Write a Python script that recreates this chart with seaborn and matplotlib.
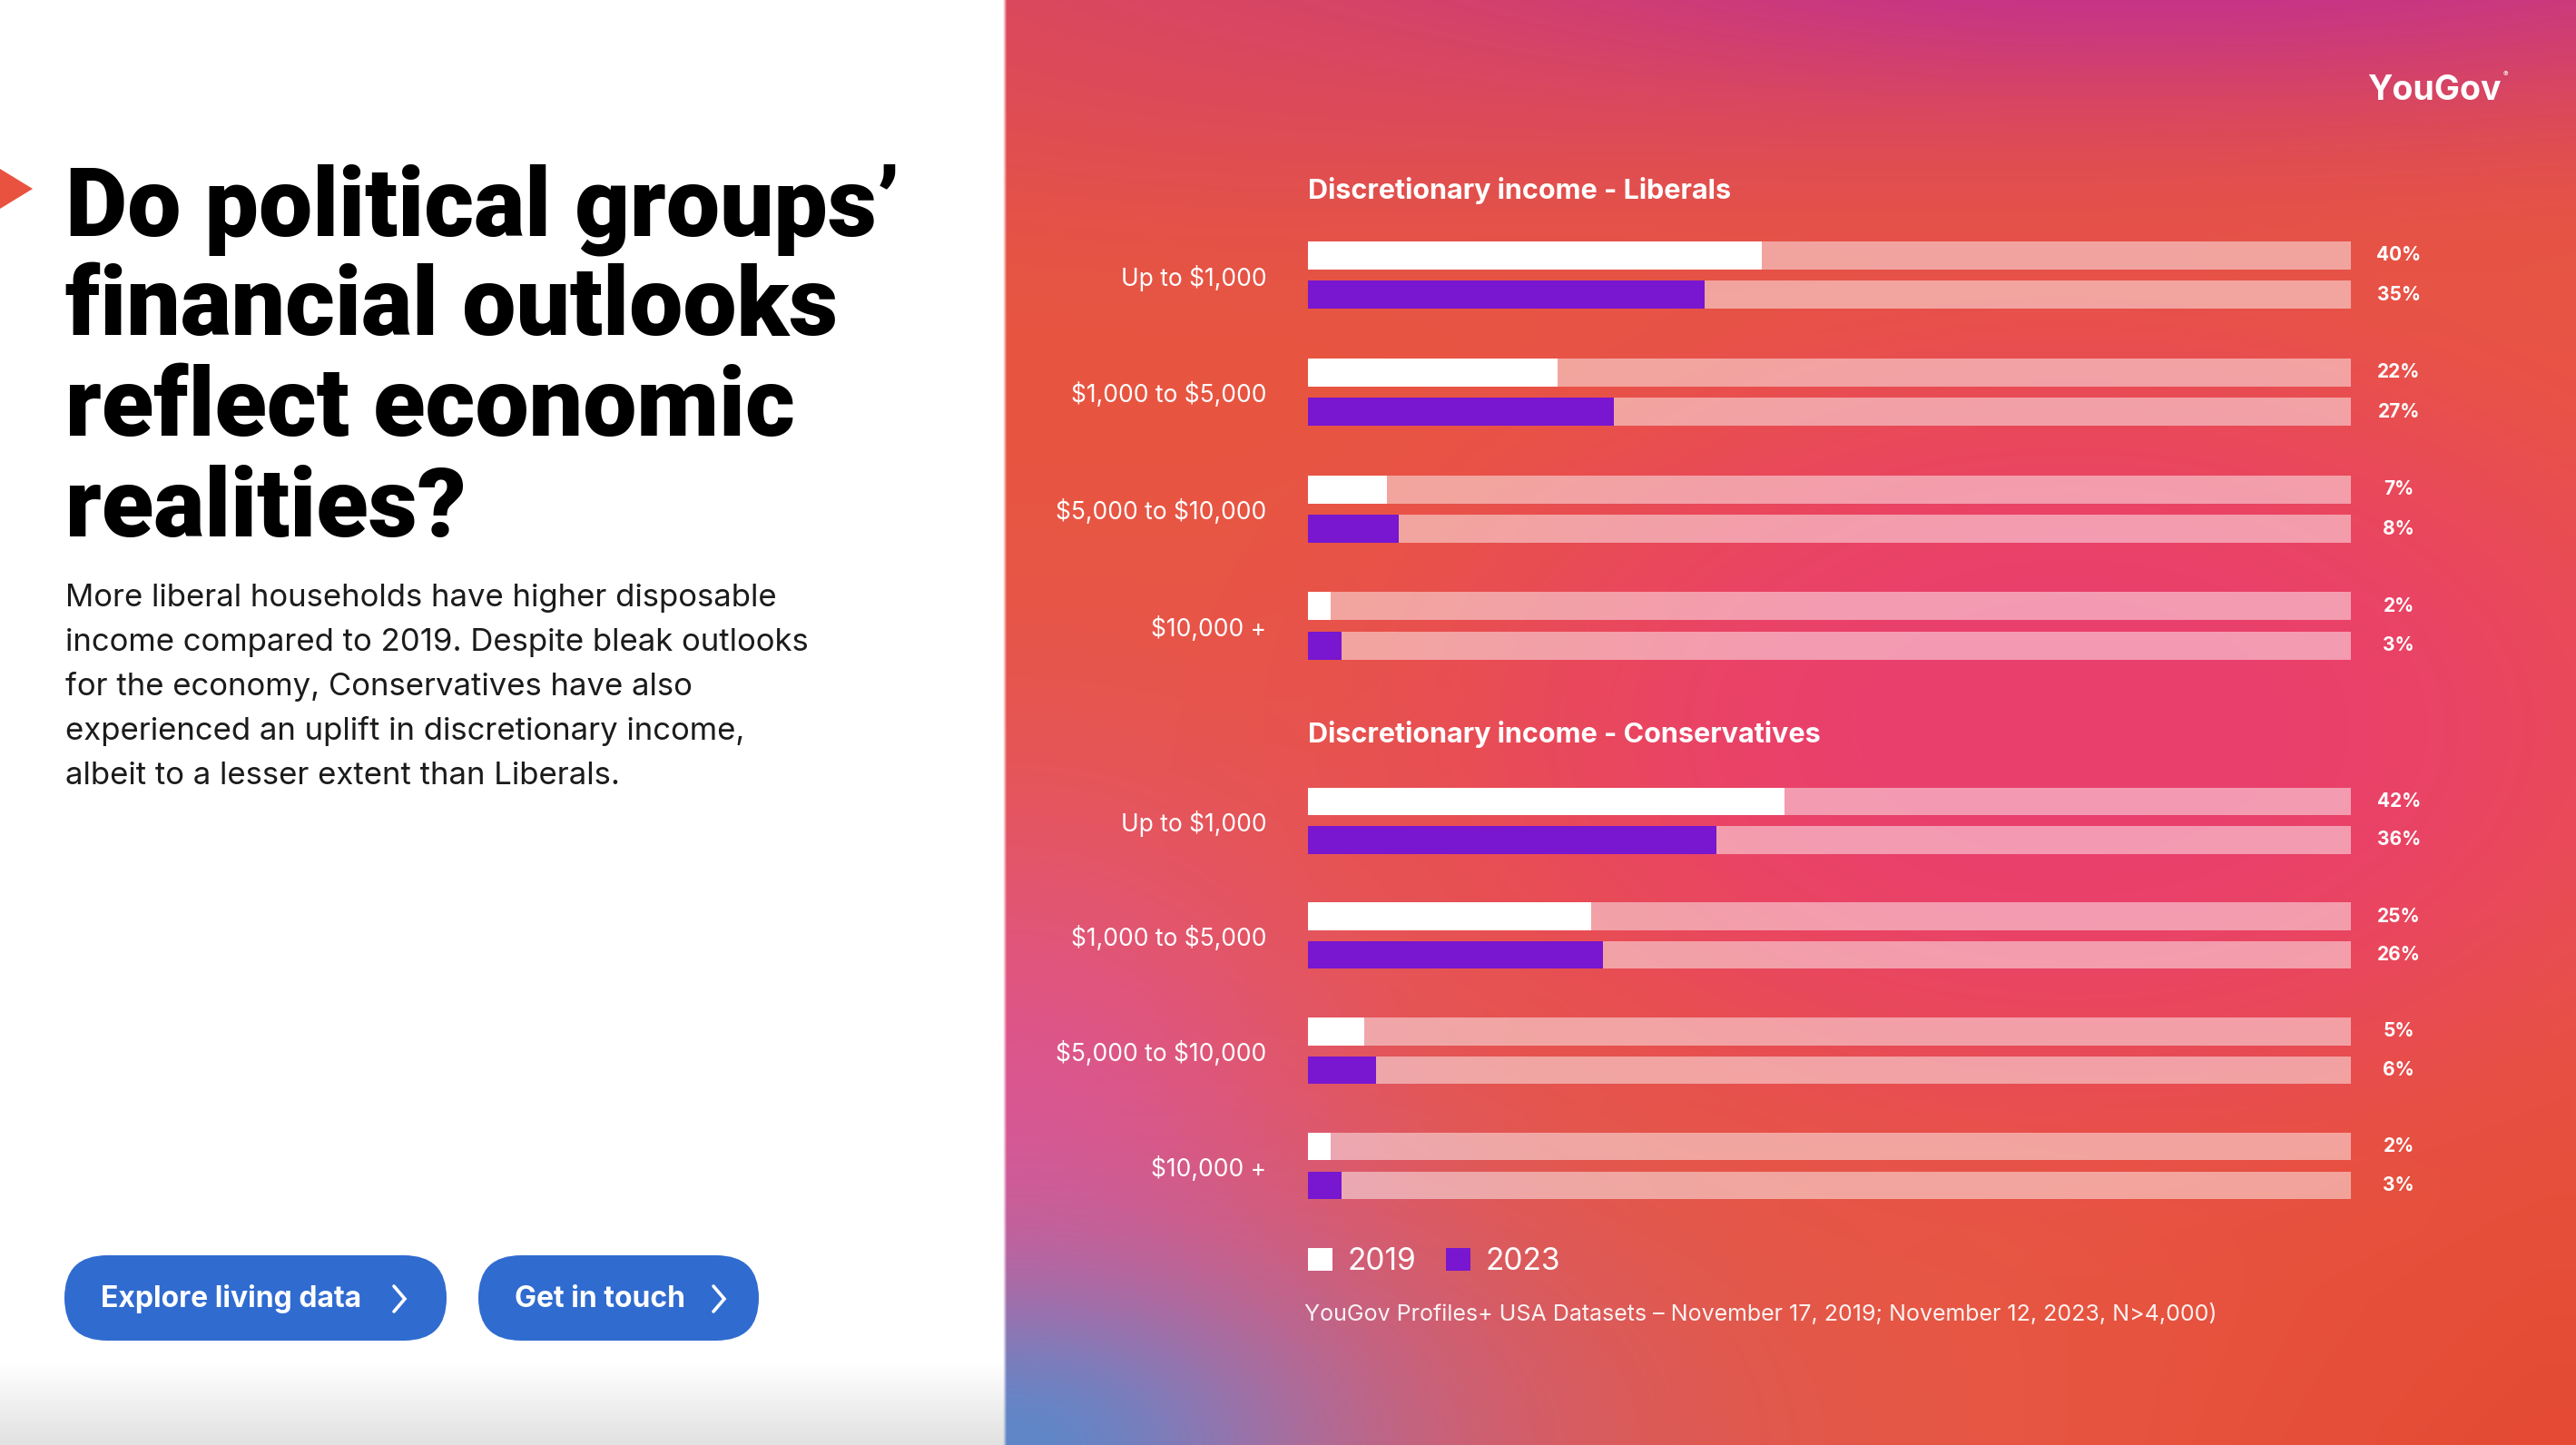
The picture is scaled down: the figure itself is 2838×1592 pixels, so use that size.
import numpy as np
import pandas as pd
import seaborn as sns
import matplotlib.pyplot as plt
from matplotlib import font_manager
from matplotlib.patches import FancyBboxPatch, Polygon

# ---- data ----
categories = ["Up to $1,000", "$1,000 to $5,000", "$5,000 to $10,000", "$10,000 +"]
years = ["2019", "2023"]
liberals_2019 = [40, 22, 7, 2]
liberals_2023 = [35, 27, 8, 3]
conservatives_2019 = [42, 25, 5, 2]
conservatives_2023 = [36, 26, 6, 3]

title_lines = ["Do political groups\u2019", "financial outlooks", "reflect economic", "realities?"]
body_lines = [
    "More liberal households have higher disposable",
    "income compared to 2019. Despite bleak outlooks",
    "for the economy, Conservatives have also",
    "experienced an uplift in discretionary income,",
    "albeit to a lesser extent than Liberals.",
]
source_text = "YouGov Profiles+ USA Datasets \u2013 November 17, 2019; November 12, 2023, N>4,000)"

TRACK = 92          # value the full light track stands for
W, H = 2838, 1592
PURPLE = "#7816D0"
BLUE = "#306BD0"


def pick(*names):
    for n in names:
        try:
            font_manager.findfont(n, fallback_to_default=False)
            return n
        except Exception:
            pass
    return "DejaVu Sans"


sns.set_style("white")
TEXT_FONT = pick("Inter", "Lato", "Roboto")
TITLE_FONT = pick("Liberation Sans Narrow", "Roboto", "Inter")
plt.rcParams["font.family"] = [TEXT_FONT, "DejaVu Sans"]
plt.rcParams["text.parse_math"] = False

fig = plt.figure(figsize=(W / 100, H / 100), dpi=100)


def frac_box(x0, y0, x1, y1):
    # pixel box (top-left origin) -> figure fraction [l, b, w, h]
    return [x0 / W, 1 - y1 / H, (x1 - x0) / W, (y1 - y0) / H]


# ---- background ----
bg = fig.add_axes([0, 0, 1, 1], zorder=0)
step = 4
yy, xx = np.mgrid[0:H:step, 0:W:step].astype(float)


def blob(cx, cy, sx, sy, p=1.0):
    r2 = ((xx - cx) / sx) ** 2 + ((yy - cy) / sy) ** 2
    return np.exp(-0.69 * r2 ** p)


def mix(base, col, w):
    col = np.array(col) / 255.0
    return base * (1 - w[..., None]) + col * w[..., None]


right = np.ones(xx.shape + (3,)) * (np.array([232, 86, 64]) / 255.0)
right = mix(right, [228, 74, 52], np.clip((yy - 1000) / 600, 0, 1) * np.clip((xx - 2200) / 600, 0, 1))
right = mix(right, [192, 46, 148], blob(2300, -80, 1000, 170))
right = mix(right, [218, 72, 96], blob(1350, 60, 500, 160) * 0.5)
right = mix(right, [234, 62, 112], blob(2280, 800, 600, 360, p=1.6) * 0.95)
right = mix(right, [222, 84, 150], blob(1106, 1250, 320, 320) * 0.9)
right = mix(right, [170, 110, 180], blob(1106, 1592, 500, 230) * 0.8)
right = mix(right, [95, 135, 200], blob(1106, 1592, 230, 130))
left = np.ones(xx.shape + (3,))
grey = np.clip((yy - 1500) / 92, 0, 1) * 0.12
left = left - grey[..., None]
img = np.where((xx < 1106)[..., None], left, right)
bg.imshow(img, extent=(0, W, H, 0), aspect="auto", interpolation="bilinear")
bg.set_xlim(0, W)
bg.set_ylim(H, 0)
bg.axis("off")

# ---- chart panels ----
panels = [
    ("Discretionary income - Liberals", liberals_2019, liberals_2023, (238.8, 754.0), 210),
    ("Discretionary income - Conservatives", conservatives_2019, conservatives_2023, (840.7, 1348.0), 809),
]
for title, v19, v23, (top, bottom), ty in panels:
    ax = fig.add_axes(frac_box(1441, top, 2590, bottom), zorder=2)
    df = pd.DataFrame({
        "category": categories * 2,
        "year": [years[0]] * 4 + [years[1]] * 4,
        "value": v19 + v23,
    })
    track = df.assign(value=TRACK)
    sns.barplot(data=track, x="value", y="category", hue="year", orient="h",
                palette={"2019": "white", "2023": "white"}, alpha=0.48,
                width=0.674, gap=0.29, errorbar=None, saturation=1,
                linewidth=0, legend=False, ax=ax)
    sns.barplot(data=df, x="value", y="category", hue="year", orient="h",
                palette={"2019": "white", "2023": PURPLE},
                width=0.674, gap=0.29, errorbar=None, saturation=1,
                linewidth=0, legend=False, ax=ax)
    ax.set_xlim(0, TRACK)
    ax.set_ylim(3.5, -0.5)
    ax.set_facecolor("none")
    ax.set_xlabel("")
    ax.set_ylabel("")
    ax.set_xticks([])
    ax.tick_params(axis="y", length=0, pad=33, labelsize=19, labelcolor="white")
    for s in ax.spines.values():
        s.set_visible(False)
    for cont, vals in zip(ax.containers[-2:], [v19, v23]):
        for patch, v in zip(cont, vals):
            yc = patch.get_y() + patch.get_height() / 2
            ax.annotate(f"{v}%", xy=(TRACK, yc), xytext=(38, 0), textcoords="offset points",
                        ha="center", va="center", color="white", fontsize=15, fontweight="bold")
    fig.text(1441 / W, 1 - ty / H, title, color="white", fontsize=22, fontweight="bold",
             ha="left", va="center")
    handles = list(ax.containers[-2:])

leg = fig.legend(handles, years, loc="center left", bbox_to_anchor=(1441 / W, 1 - 1390 / H),
                 frameon=False, ncol=2, fontsize=24, labelcolor="white",
                 handlelength=0.8, handleheight=0.8, handletextpad=0.5, columnspacing=1.0,
                 borderpad=0, borderaxespad=0)

fig.text(1437 / W, 1 - 1448 / H, source_text, color="white", alpha=0.92, fontsize=18,
         ha="left", va="center")

fig.text(2608 / W, 1 - 100 / H, "YouGov", color="white", fontsize=27, fontweight="bold",
         ha="left", va="center")
fig.text(2758 / W, 1 - 82 / H, "\u00ae", color="white", fontsize=6, ha="left", va="center")

# ---- left panel overlay ----
ov = fig.add_axes([0, 0, 1, 1], zorder=3)
ov.set_xlim(0, W)
ov.set_ylim(H, 0)
ov.axis("off")
ov.add_patch(Polygon([(0, 186), (36, 208), (0, 230)], closed=True, color="#E8523F", lw=0))

title_objs = []
for i, line in enumerate(title_lines):
    t = ov.text(72, 259 + i * 110.5, line, fontsize=78, fontweight="heavy",
                family=[TITLE_FONT, "DejaVu Sans"], color="black", ha="left", va="baseline")
    title_objs.append(t)
fig.canvas.draw()
w0 = title_objs[0].get_window_extent().width
if w0 > 0:
    fs = 78 * min(1.0, 920 / w0)
    for t in title_objs:
        t.set_fontsize(fs)

for i, line in enumerate(body_lines):
    ov.text(72, 668 + i * 49, line, fontsize=25, color="#1b1b1b", ha="left", va="baseline")

for x0, x1, label, chev in [(71, 492, "Explore living data", 434), (527, 836, "Get in touch", 786)]:
    ov.add_patch(FancyBboxPatch((x0, 1383), x1 - x0, 94,
                                boxstyle="round,pad=0,rounding_size=47",
                                facecolor=BLUE, edgecolor="none"))
    ov.text(x0 + 40, 1431, label, fontsize=23, fontweight="bold", color="white",
            ha="left", va="center")
    ov.plot([chev, chev + 12, chev], [1417, 1431, 1445], color="white", lw=2.6,
            solid_capstyle="round", solid_joinstyle="miter")

fig.savefig("out.png", dpi=100)
